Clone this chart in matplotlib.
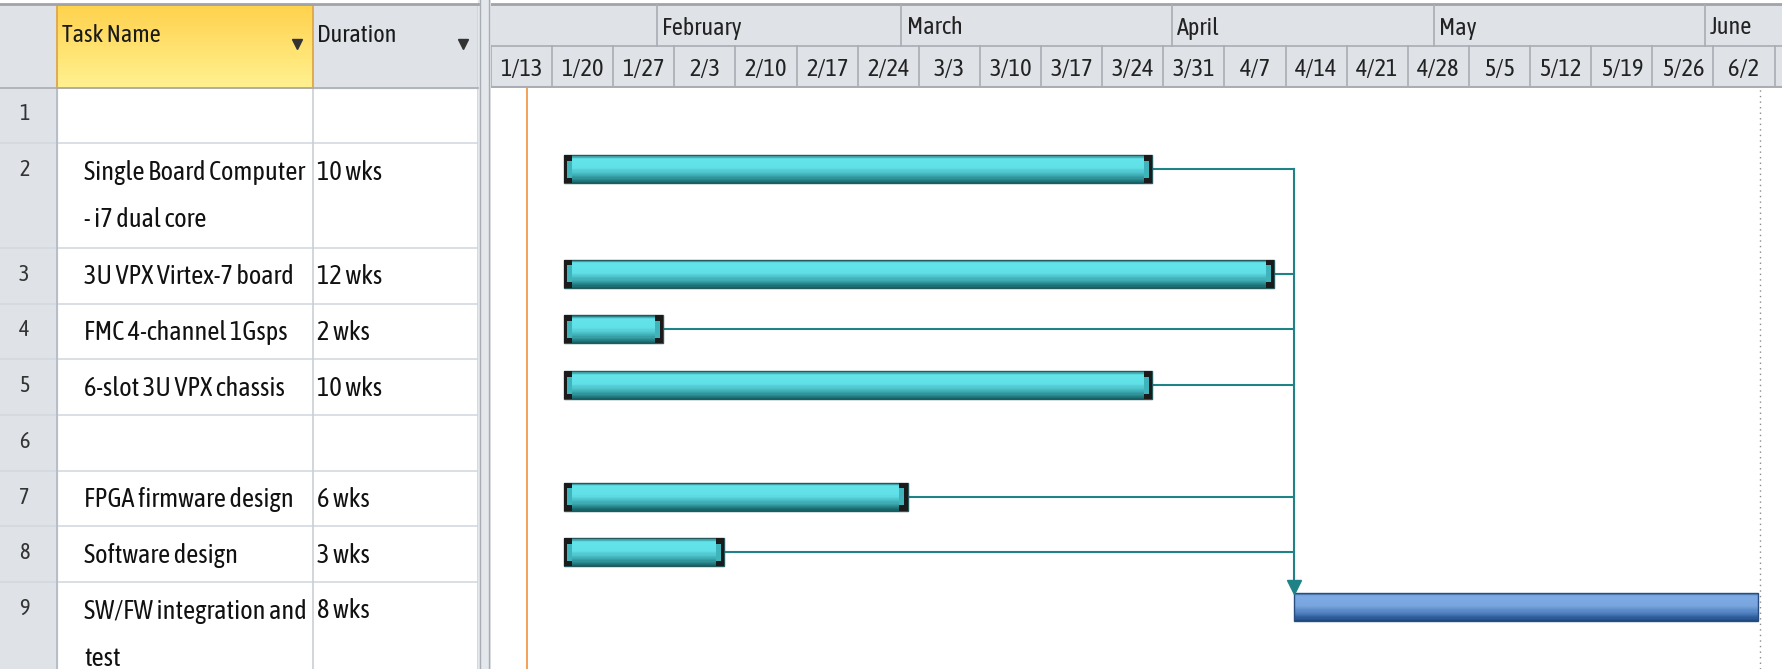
import matplotlib
matplotlib.use("Agg")
import matplotlib.pyplot as plt
import matplotlib.dates as mdates
from matplotlib import font_manager
from matplotlib.colors import LinearSegmentedColormap
from matplotlib.patches import Rectangle
from datetime import datetime, timedelta

# ---- data ----
row_ids = [1, 2, 3, 4, 5, 6, 7, 8, 9]
task_names = ["", "Single Board Computer\n- i7 dual core", "3U VPX Virtex-7 board",
              "FMC 4-channel 1Gsps", "6-slot 3U VPX chassis", "",
              "FPGA firmware design", "Software design", "SW/FW integration and\ntest"]
durations = ["", "10 wks", "12 wks", "2 wks", "10 wks", "", "6 wks", "3 wks", "8 wks"]
starts = [None, "2013-01-21 08:00", "2013-01-21 08:00", "2013-01-21 08:00",
          "2013-01-21 08:00", None, "2013-01-21 08:00", "2013-01-21 08:00",
          "2013-04-15 00:00"]
finishes = [None, "2013-03-29 17:00", "2013-04-12 17:00", "2013-02-01 17:00",
            "2013-03-29 17:00", None, "2013-03-01 17:00", "2013-02-08 17:00",
            "2013-06-07 03:00"]
manual = [False, True, True, True, True, False, True, True, False]
successor = [None, 9, 9, 9, 9, None, 9, 9, None]
view_start = "2013-01-13"
view_days = 147.96
status_date = "2013-01-17 02:00"
project_finish = "2013-06-07 09:00"
month_starts = ["2013-02-01", "2013-03-01", "2013-04-01", "2013-05-01", "2013-06-01"]
month_names = ["February", "March", "April", "May", "June"]

# ---- fonts ----
names = {f.name for f in font_manager.fontManager.ttflist}
FONT = "DejaVu Sans"
for cand in ["Asap Condensed", "Archivo Narrow", "Barlow Semi Condensed"]:
    if cand in names:
        FONT = cand
        break
plt.rcParams["font.family"] = [FONT, "DejaVu Sans"]
FS = 19       # table body
FS_H = 17.5   # headers / timescale

W, H = 1783, 669
HDR = 87.5
LINE1, LINE2 = 55.7, 104.6
TBL_W, GANTT_X = 478, 491
GRAY = "#DFE3E8"
GRID = "#D3D9E0"

fig = plt.figure(figsize=(W / 100, H / 100), dpi=100)

# row geometry in pixels from top
row_tops = []
y = HDR
for name in task_names:
    row_tops.append(y)
    y += LINE2 if "\n" in name else LINE1

# ---------------- left table ----------------
tb = fig.add_axes([0, 0, GANTT_X / W, 1])
tb.set_xlim(0, GANTT_X)
tb.set_ylim(H, 0)
tb.axis("off")

cols = [0, 57, 313, TBL_W]
tb.add_patch(Rectangle((0, 0), GANTT_X, H, color="white", zorder=0))
tb.add_patch(Rectangle((0, 5), 57, H, color=GRAY, zorder=1))
tb.add_patch(Rectangle((313, 5), TBL_W - 313, HDR - 5, color=GRAY, zorder=1))
# yellow gradient header cell
ycmap = LinearSegmentedColormap.from_list("y", ["#FFD24E", "#FFF08E"])
for k in range(20):
    tb.add_patch(Rectangle((57, 5 + k * (HDR - 5) / 20), 313 - 57, (HDR - 5) / 20 + 0.5,
                           color=ycmap(k / 19), lw=0, zorder=1))
tb.add_patch(Rectangle((57, 5), 313 - 57, HDR - 5, fill=False, ec="#E3A43A", lw=1.2, zorder=3))
tb.plot([0, TBL_W], [4, 4], color="#A0A4A8", lw=2, zorder=3)
tb.plot([0, TBL_W], [HDR, HDR], color="#A9AEB4", lw=1.2, zorder=3)
for yt in row_tops[1:] + [y]:
    tb.plot([0, TBL_W], [yt, yt], color=GRID, lw=1.2, zorder=2)
for x in cols[1:]:
    tb.plot([x, x], [5, H], color="#C9CFD6", lw=1.2, zorder=2)
tb.plot([57, 57], [HDR, H], color="#B5BBC2", lw=1.2, zorder=2)
# splitter
tb.add_patch(Rectangle((TBL_W, 0), GANTT_X - TBL_W, H, color="#E4E7EB", zorder=2))
tb.plot([TBL_W + 2, TBL_W + 2], [0, H], color="#A8ADB3", lw=1, zorder=3)
tb.plot([GANTT_X - 2, GANTT_X - 2], [0, H], color="#A8ADB3", lw=1, zorder=3)

tb.text(62, 35, "Task Name", fontsize=FS_H, va="center", ha="left", color="#1A1A1A", zorder=4)
tb.text(317, 35, "Duration", fontsize=FS_H, va="center", ha="left", color="#1A1A1A", zorder=4)
tb.plot([297, 463], [44, 44], ls="none", marker="v", ms=7, color="#333333", zorder=4)

for rid, name, dur, top in zip(row_ids, task_names, durations, row_tops):
    tb.text(19, top + 27, str(rid), fontsize=FS_H - 1.5, va="center", ha="left",
            color="#333333", zorder=4)
    for j, part in enumerate(name.split("\n")):
        tb.text(84, top + 29 + j * 47, part, fontsize=FS, va="center", ha="left",
                color="#111111", zorder=4)
    tb.text(317, top + 29, dur, fontsize=FS, va="center", ha="left", color="#111111", zorder=4)

# ---------------- timescale ----------------
x0 = mdates.date2num(datetime.fromisoformat(view_start))
x1 = x0 + view_days

hd = fig.add_axes([GANTT_X / W, (H - HDR) / H, (W - GANTT_X) / W, HDR / H])
hd.set_xlim(x0, x1)
hd.set_ylim(HDR, 0)
hd.axis("off")
hd.add_patch(Rectangle((x0, 5), x1 - x0, HDR - 5, color=GRAY, zorder=0))
hd.plot([x0, x1], [4, 4], color="#A0A4A8", lw=2)
hd.plot([x0, x1], [46, 46], color="#A9AEB4", lw=1.2)
hd.plot([x0, x1], [HDR - 0.5, HDR - 0.5], color="#A9AEB4", lw=1.5)

for ms, mn in zip(month_starts, month_names):
    m = mdates.date2num(datetime.fromisoformat(ms))
    hd.plot([m, m], [5, 46], color="#A9AEB4", lw=1.2)
    hd.text(m + 0.6, 28, mn, fontsize=FS_H, va="center", ha="left", color="#222222")

week0 = datetime.fromisoformat(view_start)
weeks = [week0 + timedelta(days=7 * i) for i in range(22)]
for wk in weeks:
    w = mdates.date2num(wk)
    if w > x1:
        break
    hd.plot([w, w], [46, HDR], color="#A9AEB4", lw=1.2)
    if w + 3.5 < x1:
        hd.text(w + 3.5, 69, f"{wk.month}/{wk.day}", fontsize=FS_H, va="center",
                ha="center", color="#222222")

# ---------------- gantt body ----------------
ax = fig.add_axes([GANTT_X / W, 0, (W - GANTT_X) / W, (H - HDR) / H])
ax.set_xlim(x0, x1)
ax.set_ylim(H, HDR)
ax.axis("off")

cyan = LinearSegmentedColormap.from_list(
    "c", [(0, "#2C8C92"), (0.1, "#63E3EA"), (0.45, "#60DFE7"), (0.75, "#3CA9B0"), (1, "#15656A")])
blue = LinearSegmentedColormap.from_list(
    "b", [(0, "#3A66A0"), (0.1, "#7EABE3"), (0.45, "#78A5DD"), (0.75, "#4A7BBB"), (1, "#1E4A84")])

BAR_H = 28
centers = {}
for rid, s, f, man, top in zip(row_ids, starts, finishes, manual, row_tops):
    if s is None:
        continue
    a = mdates.date2num(datetime.fromisoformat(s))
    b = mdates.date2num(datetime.fromisoformat(f))
    yc = top + 26 if rid != 9 else top + 25
    centers[rid] = (a, b, yc)
    cmap = cyan if man else blue
    n = 24
    for k in range(n):
        ax.barh(yc - BAR_H / 2 + k * BAR_H / n, b - a, height=BAR_H / n + 0.3, left=a,
                align="edge", color=cmap(k / (n - 1)), lw=0, zorder=3)
    ax.barh(yc - BAR_H / 2, b - a, height=BAR_H, left=a, align="edge", fill=False,
            edgecolor="#27585C" if man else "#274D80", lw=1, zorder=4)
    if man:
        cw = 0.95
        for edge, sign in ((a, 1), (b, -1)):
            ax.barh(yc - BAR_H / 2, sign * cw, height=BAR_H, left=edge, align="edge",
                    color="#1B1B1B", lw=0, zorder=5)
            ax.barh(yc - BAR_H * 0.3, sign * cw * 0.6, height=BAR_H * 0.6,
                    left=edge + sign * cw * 0.4, align="edge", color="#3FB4BB", lw=0, zorder=6)

# link lines
teal = "#1E8286"
sa, sb, syc = centers[9]
top_y = None
for rid, succ in zip(row_ids, successor):
    if succ is None:
        continue
    a, b, yc = centers[rid]
    ax.plot([b, sa], [yc, yc], color=teal, lw=1.5, zorder=2)
    top_y = yc if top_y is None else min(top_y, yc)
ax.plot([sa, sa], [top_y, syc - BAR_H / 2 - 4], color=teal, lw=1.5, zorder=2)
ax.plot([sa], [syc - BAR_H / 2 - 6], marker="v", ms=10, color=teal, zorder=5)

# status date and project finish lines
sd = mdates.date2num(datetime.fromisoformat(status_date))
pf = mdates.date2num(datetime.fromisoformat(project_finish))
ax.axvline(sd, color="#F29A4A", lw=1.3, zorder=1)
ax.axvline(pf, color="#8A8A8A", lw=1, ls=(0, (1, 3)), zorder=1)

fig.savefig("out.png", dpi=100)
